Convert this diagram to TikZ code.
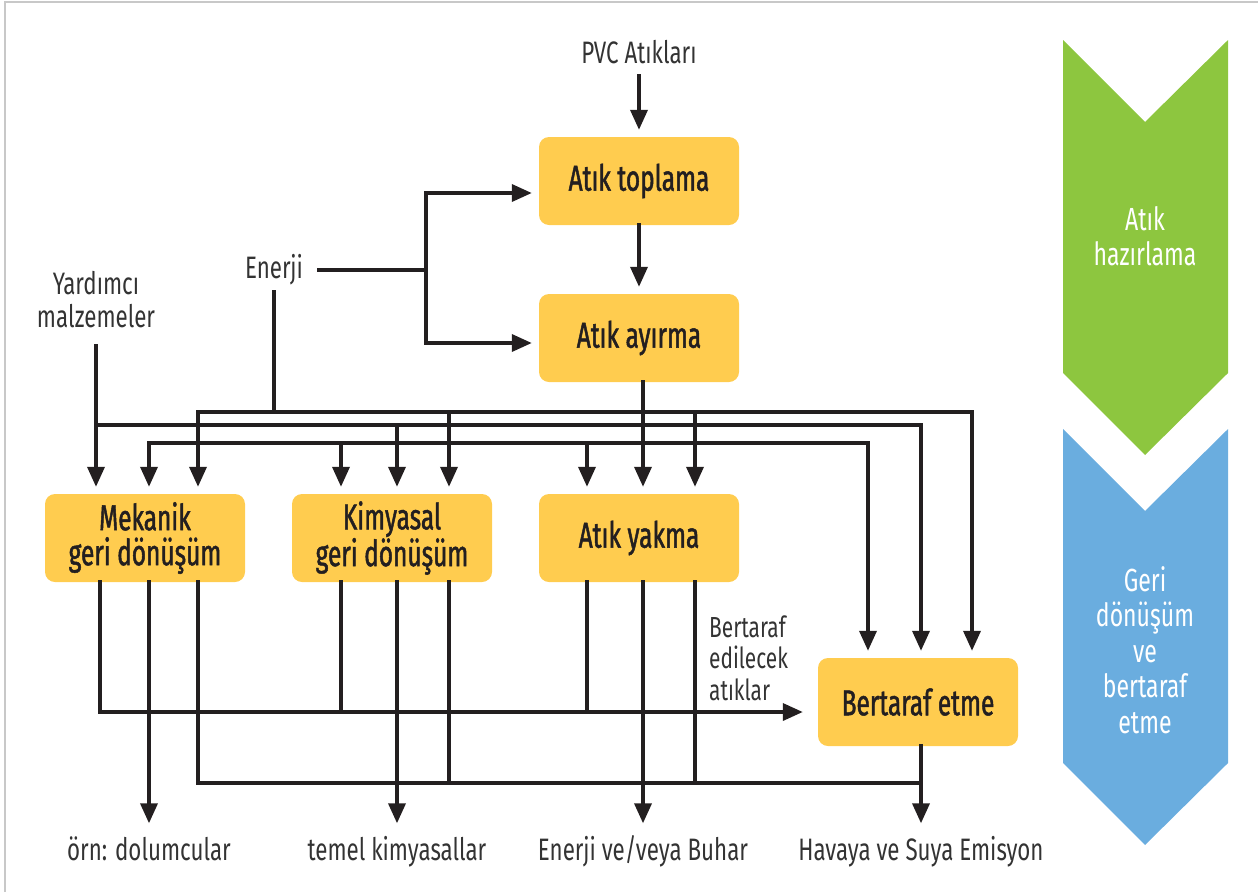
\documentclass[tikz,border=0pt]{standalone}
\usepackage{fontspec}
\setmainfont{Fira Sans}[FakeStretch=0.7]
\newfontfamily\lblfont{Fira Sans}[FakeStretch=0.72]
\newfontfamily\boxfont{Fira Sans}[FakeStretch=0.68,FakeBold=1.3]
\usetikzlibrary{arrows.meta}
\definecolor{boxyellow}{HTML}{FFCC4F}
\definecolor{ink}{HTML}{231F20}
\definecolor{labelgray}{HTML}{333333}
\definecolor{prepgreen}{HTML}{8DC63F}
\definecolor{recblue}{HTML}{6AADDF}
\definecolor{framegray}{HTML}{C8C8C8}
\begin{document}
\begin{tikzpicture}[x=1pt,y=-1pt,
base/.style={
rounded corners=10pt,
fill=boxyellow,
minimum width=200pt,
minimum height=88pt,
align=center,
inner sep=0pt,
font={\boxfont\color{ink}\fontsize{36pt}{35pt}\selectfont},
},
lbl/.style={
align=center,
inner sep=0pt,
font={\lblfont\color{labelgray}\fontsize{31pt}{33pt}\selectfont},
},
outlbl/.style={
lbl,
text height=24pt,
text depth=7pt,
},
band/.style={
align=center,
inner sep=0pt,
font={\lblfont\color{white}\fontsize{32pt}{35.5pt}\selectfont},
},
wire/.style={
draw=ink,
line width=3.6pt,
line cap=rect,
},
flow/.style={
wire,
-{Triangle[length=20pt,width=17pt]},
shorten >=7pt,
},
]
\useasboundingbox (0,0) rectangle (1258,892);
\draw[framegray,line width=1.2pt] (5,892) -- (5,2) -- (1258,2);

\fill[prepgreen] (1063,40) -- (1145,122) -- (1228,40) -- (1228,373) -- (1145,455) -- (1063,373) -- cycle;
\fill[recblue] (1063,429) -- (1145,511) -- (1228,429) -- (1228,763) -- (1145,845) -- (1063,763) -- cycle;
\node[band] (hazirlama) at(1145,236) {Atık\\hazırlama};
\node[band] (geri) at(1145,650) {Geri\\dönüşüm\\ve\\bertaraf\\etme};

\node[lbl] (pvc) at(639,52) {PVC Atıkları};
\node[base] (toplama) at(639,181) {Atık toplama};
\node[base] (ayirma) at(639,338) {Atık ayırma};
\node[lbl] (enerji) at(274,270) {Enerji};
\node[lbl] (yardimci) at(96,300) {Yardımcı\\malzemeler};
\node[base] (mekanik) at(145,538) {Mekanik\\geri dönüşüm};
\node[base] (kimyasal) at(392,538) {Kimyasal\\geri dönüşüm};
\node[base] (yakma) at(639,538) {Atık yakma};
\node[base] (bertaraf) at(918,702) {Bertaraf etme};
\node[lbl,align=left,anchor=west,font={\lblfont\color{labelgray}\fontsize{29pt}{31.5pt}\selectfont}] (atiklar) at(709,658) {Bertaraf\\edilecek\\atıklar};
\node[outlbl] (dolgu) at(149,852) {örn: dolumcular};
\node[outlbl] (kimya) at(397,852) {temel kimyasallar};
\node[outlbl] (buhar) at(643,852) {Enerji ve/veya Buhar};
\node[outlbl] (emisyon) at(921,852) {Havaya ve Suya Emisyon};

\coordinate (ejoin) at(426,270);
\coordinate (ebus) at(274,412);
\coordinate (abus) at(96,425);
\coordinate (wbus) at(643,443);

\draw[flow,shorten <=12pt] (pvc) -- (toplama);
\draw[flow] (toplama) -- (ayirma);
\draw[wire,shorten <=16pt] (enerji.east) -- (ejoin);
\draw[flow] (ejoin) |- ([yshift=-12pt]toplama.west);
\draw[flow] (ejoin) |- ([yshift=-5pt]ayirma.west);

\draw[wire,shorten <=6pt] (enerji) -- (ebus);
\draw[flow] (ebus) -| (198,0 |- mekanik.north);
\draw[flow] (ebus) -| (972,0 |- bertaraf.north);
\draw[flow] (449,412) -- (449,0 |- kimyasal.north);
\draw[flow] (695,412) -- (695,0 |- yakma.north);

\draw[flow,shorten <=17pt] (yardimci) -- (yardimci |- mekanik.north);
\draw[flow] (abus) -| (921,0 |- bertaraf.north);
\draw[flow] (397,425) -- (397,0 |- kimyasal.north);

\draw[flow] ([xshift=4pt]ayirma.south) -- ([xshift=4pt]yakma.north);
\draw[flow] (wbus) -| (149,0 |- mekanik.north);
\draw[flow] (wbus) -| (868,0 |- bertaraf.north);
\draw[flow] (341,443) -- (341,0 |- kimyasal.north);
\draw[flow] (587,443) -- (587,0 |- yakma.north);

\draw[flow,shorten >=15pt] (100,0 |- mekanik.south) |- (bertaraf.west |- 0,712);
\draw[wire] (341,0 |- kimyasal.south) -- (341,712);
\draw[wire] (587,0 |- yakma.south) -- (587,712);

\draw[wire] (198,0 |- mekanik.south) |- (921,783);
\draw[wire] (449,0 |- kimyasal.south) -- (449,783);
\draw[wire] (695,0 |- yakma.south) -- (695,783);

\draw[flow,shorten >=13pt] (149,0 |- mekanik.south) -- (dolgu);
\draw[flow,shorten >=13pt] (397,0 |- kimyasal.south) -- (kimya);
\draw[flow,shorten >=13pt] (643,0 |- yakma.south) -- (buhar);
\draw[flow,shorten >=13pt] ([xshift=3pt]bertaraf.south) -- (emisyon);

\end{tikzpicture}
\end{document}
